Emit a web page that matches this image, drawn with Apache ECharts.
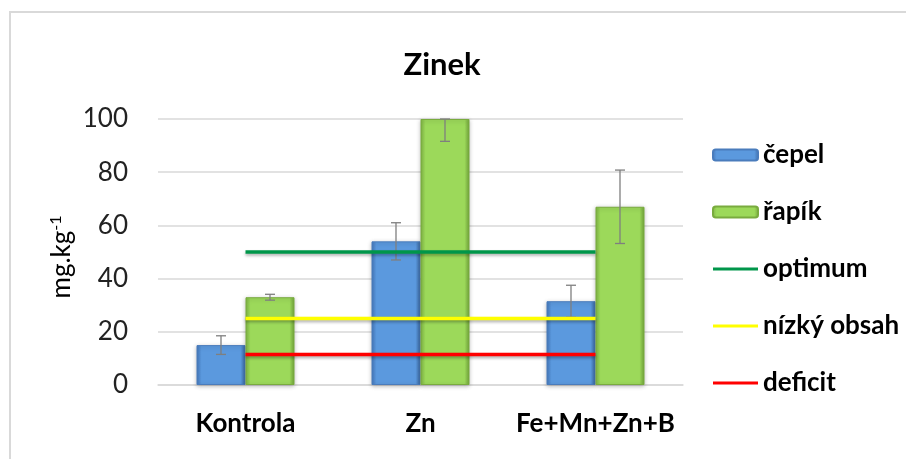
<!DOCTYPE html>
<html><head><meta charset="utf-8">
<script src="https://cdn.jsdelivr.net/npm/echarts@6/dist/echarts.min.js"></script>
<style>html,body{margin:0;padding:0;background:#fff}#c{width:906px;height:459px}</style>
</head><body><div id="c"></div>
<script>
const categories = ['Kontrola', 'Zn', 'Fe+Mn+Zn+B'];
const cepel = [15, 54, 31.5];
const cepelErr = [3.5, 7, 6];
const rapik = [33, 100, 67];
const rapikErr = [1.1, 8.4, 13.8];
const optimum = [50, 50, 50];
const nizky = [25, 25, 25];
const deficit = [11.5, 11.5, 11.5];
const yTicks = [0, 20, 40, 60, 80, 100];
const yName = 'mg.kg';
const yNameSup = '-1';

const FONT = 'Lato, "Open Sans", sans-serif';
const BAR_W = 49;
const LINE_ICON = 'path://M0,0 L45,0 L45,3.2 L0,3.2 Z';

function errSeries(name, vals, errs, offset) {
  return {
    name: name + '_err', type: 'custom', z: 4, silent: true,
    data: vals.map((v, i) => [i, v - errs[i], v + errs[i]]),
    renderItem: function (params, api) {
      const lo = api.coord([api.value(0), api.value(1)]);
      const hi = api.coord([api.value(0), Math.min(api.value(2), yTicks[yTicks.length - 1])]);
      const x = lo[0] + offset;
      const cap = 5;
      const style = { stroke: '#7f7f7f', lineWidth: 1.3 };
      return { type: 'group', children: [
        { type: 'line', shape: { x1: x, y1: lo[1], x2: x, y2: hi[1] }, style: style },
        { type: 'line', shape: { x1: x - cap, y1: lo[1], x2: x + cap, y2: lo[1] }, style: style },
        { type: 'line', shape: { x1: x - cap, y1: hi[1], x2: x + cap, y2: hi[1] }, style: style }
      ]};
    }
  };
}

function grad(edge, mid, edge2) {
  return { type: 'linear', x: 0, y: 0, x2: 1, y2: 0, colorStops: [
    { offset: 0, color: edge }, { offset: 0.1, color: mid },
    { offset: 0.9, color: mid }, { offset: 1, color: edge2 }] };
}

function lineSeries(name, data, color) {
  return {
    name: name, type: 'line', data: data, symbol: 'none', z: 5,
    lineStyle: { color: color, width: 3.5, shadowColor: 'rgba(0,0,0,0.3)', shadowBlur: 3, shadowOffsetY: 2 },
    itemStyle: { color: color }
  };
}

const chart = echarts.init(document.getElementById('c'), null, { renderer: 'canvas' });
chart.setOption({
  animation: false,
  backgroundColor: '#fff',
  graphic: [
    { type: 'rect', shape: { x: 10, y: 12, width: 1000, height: 1000 },
      style: { fill: 'none', stroke: '#d9d9d9', lineWidth: 2 }, z: -1 },
    { type: 'text', x: 62, y: 257, rotation: Math.PI / 2,
      style: { text: '{a|' + yName + '}{b|' + yNameSup + '}', align: 'center', verticalAlign: 'middle',
        rich: {
          a: { fontFamily: FONT, fontSize: 26, fill: '#000', color: '#000' },
          b: { fontFamily: FONT, fontSize: 16, fill: '#000', color: '#000', verticalAlign: 'top', padding: [0, 0, 12, 0] } } } }
  ],
  title: { text: 'Zinek', left: 437, top: 44, textAlign: 'center',
    textStyle: { fontFamily: FONT, fontSize: 31, fontWeight: 'bold', color: '#000' } },
  grid: { left: 158, right: 223, top: 119, bottom: 74 },
  legend: {
    orient: 'vertical', left: 707, top: 137, itemGap: 31, itemWidth: 45, itemHeight: 11,
    data: [
      { name: 'čepel' }, { name: 'řapík' },
      { name: 'optimum', icon: LINE_ICON },
      { name: 'nízký obsah', icon: LINE_ICON },
      { name: 'deficit', icon: LINE_ICON }
    ],
    textStyle: { fontFamily: FONT, fontSize: 26, fontWeight: 'bold', color: '#000', lineHeight: 26 }
  },
  xAxis: {
    type: 'category', data: categories,
    axisLine: { lineStyle: { color: '#d9d9d9', width: 1.5 } }, axisTick: { show: false },
    axisLabel: { interval: 0, margin: 26, fontFamily: FONT, fontSize: 26, fontWeight: 'bold', color: '#000' }
  },
  yAxis: {
    type: 'value', min: 0, max: 100, interval: 20,
    axisLine: { show: false }, axisTick: { show: false },
    splitLine: { lineStyle: { color: '#d9d9d9', width: 1.5 } },
    axisLabel: { margin: 30, fontFamily: FONT, fontSize: 26, color: '#222' }
  },
  series: [
    { name: 'čepel', type: 'bar', data: cepel, barWidth: BAR_W, barGap: '0%',
      itemStyle: { color: grad('#4477bb', '#5b99de', '#3d6ca8'), borderColor: '#4a7cbc', borderWidth: 1,
        shadowColor: 'rgba(0,0,0,0.25)', shadowBlur: 4, shadowOffsetY: 1 } },
    { name: 'řapík', type: 'bar', data: rapik, barWidth: BAR_W, barGap: '0%',
      itemStyle: { color: grad('#7fb443', '#9cd95a', '#72a53a'), borderColor: '#79ab3e', borderWidth: 1,
        shadowColor: 'rgba(0,0,0,0.25)', shadowBlur: 4, shadowOffsetY: 1 } },
    lineSeries('optimum', optimum, '#00964a'),
    lineSeries('nízký obsah', nizky, '#ffff00'),
    lineSeries('deficit', deficit, '#ff0000'),
    errSeries('čepel', cepel, cepelErr, -BAR_W / 2),
    errSeries('řapík', rapik, rapikErr, BAR_W / 2)
  ]
});
</script></body></html>
